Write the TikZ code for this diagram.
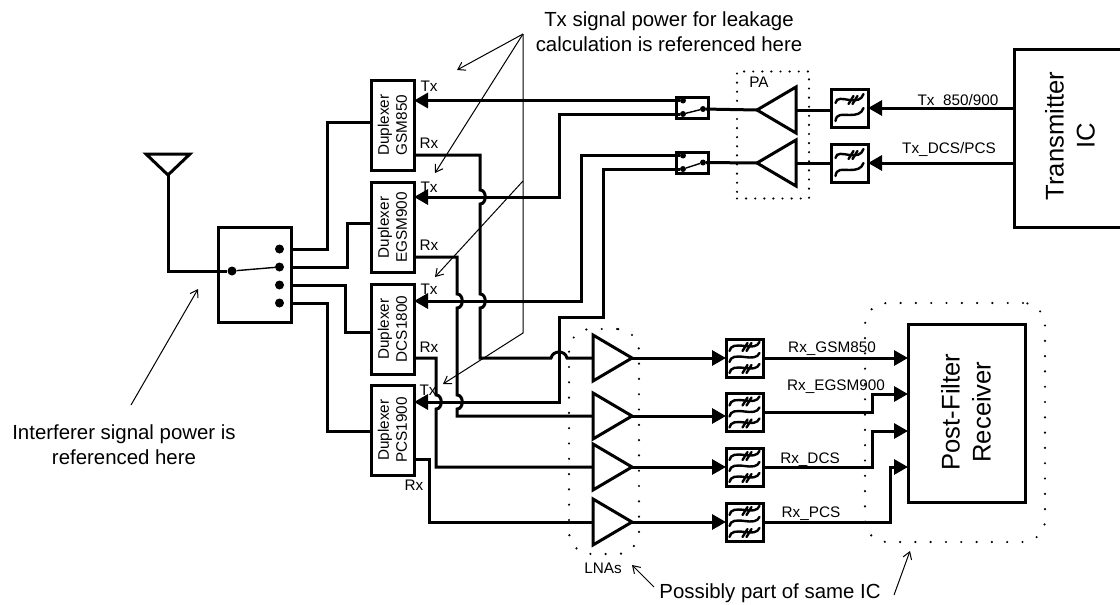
\documentclass[tikz,border=0pt]{standalone}
\usepackage{fontspec}
\setmainfont{Liberation Sans}
\usetikzlibrary{arrows.meta,calc,shapes.geometric}
\newcommand{\hopv}[2]{-- (#1,#2-7) .. controls (#1+7,#2-7) and (#1+7,#2+7) .. (#1,#2+7)}
\newcommand{\hoph}[2]{-- (#1-8,#2) .. controls (#1-6,#2-8) and (#1+6,#2-8) .. (#1+8,#2)}
\tikzset{
  font=\fontsize{15.3}{18}\selectfont,
  wire/.style={draw=black, line width=3pt, line join=miter},
  feed/.style={wire, -{Triangle[length=14pt,width=15pt]}},
  thinline/.style={draw=black, line width=1pt},
  pointer/.style={thinline, -{Straight Barb[length=7pt,width=9pt]}},
  boxed/.style={draw=black, line width=3pt, fill=white, inner sep=0pt, outer sep=0pt},
  dupbox/.style={boxed, minimum width=43pt, minimum height=90pt},
  dupname/.style={rotate=90, align=center, inner sep=0pt},
  filterbox/.style={boxed, minimum width=37pt, minimum height=38pt},
  swbox/.style={boxed, minimum width=32pt, minimum height=21pt},
  contact/.style={circle, fill=black, inner sep=0pt, minimum size=#1},
  amp/.style={draw=black, line width=3pt, fill=white, isosceles triangle, isosceles triangle stretches,
    minimum width=46pt, minimum height=39pt, inner sep=0pt, outer sep=0pt, anchor=lower side},
  squiggle/.style={draw=black, line width=2.4pt, line cap=round},
  dotgroup/.style={draw=black, line width=2.4pt, line cap=round, dash pattern=on 0pt off #1,
    inner sep=0pt, outer sep=0pt},
  tag/.style={inner sep=0pt},
  note/.style={font=\fontsize{20.4}{25}\selectfont, align=center, inner sep=0pt},
  bigname/.style={font=\fontsize{25.6}{31}\selectfont, rotate=90, align=center, inner sep=0pt}
}
\begin{document}
\begin{tikzpicture}[x=1pt,y=-1pt]
  \useasboundingbox (0,0) rectangle (1120,605);

  % dotted groups
  \node[dotgroup=9.1pt, minimum width=72pt, minimum height=127pt] (pagroup) at (773,135) {};
  \node[dotgroup=15.3pt, rounded corners=22pt, minimum width=70pt, minimum height=225pt] (lnagroup) at (604,441.5) {};
  \node[dotgroup=15.3pt, rounded corners=22pt, minimum width=180pt, minimum height=239pt] (rxgroup) at (955,422.5) {};

  % antenna and band switch
  \node[draw=black, line width=3pt, isosceles triangle, isosceles triangle stretches, shape border rotate=-90,
    minimum width=44pt, minimum height=21pt, inner sep=0pt, outer sep=0pt, anchor=apex] (ant) at (168,175) {};
  \node[boxed, minimum width=73pt, minimum height=95pt] (bandsw) at (254.5,274.5) {};
  \node[contact=9pt] (antc) at (232,271) {};
  \node[contact=9pt] (port1) at (279.5,249) {};
  \node[contact=9pt] (port2) at (279.5,267) {};
  \node[contact=9pt] (port3) at (279.5,285) {};
  \node[contact=9pt] (port4) at (279.5,303) {};
  \draw[wire] (ant.apex) -- (168,271) -- (antc);
  \draw[thinline, line width=1.4pt] (antc) -- (port2);

  % duplexers
  \node[dupbox] (dup1) at (392.5,125) {};
  \node[dupbox] (dup2) at (392.5,227.5) {};
  \node[dupbox] (dup3) at (392.5,329) {};
  \node[dupbox] (dup4) at (392.5,430) {};
  \node[dupname] (dup1name) at (dup1) {Duplexer\\GSM850};
  \node[dupname] (dup2name) at (dup2) {Duplexer\\EGSM900};
  \node[dupname] (dup3name) at (dup3) {Duplexer\\DCS1800};
  \node[dupname] (dup4name) at (dup4) {Duplexer\\PCS1900};
  \draw[wire] (bandsw.east |- port1) -- (327,249) |- (dup1.west |- 0,122);
  \draw[wire] (bandsw.east |- port2) -- (347,267) |- (dup2.west |- 0,223);
  \draw[wire] (bandsw.east |- port3) -- (345,285) |- (dup3.west |- 0,332);
  \draw[wire] (bandsw.east |- port4) -- (327,303) |- (dup4.west |- 0,431);

  % PA path
  \node[swbox] (txsw1) at (692,107.5) {};
  \node[swbox] (txsw2) at (692,162.5) {};
  \node[contact=6pt] (sw1a) at (683,100.5) {};
  \node[contact=6pt] (sw1b) at (683,114) {};
  \node[contact=6pt] (sw1c) at (703,109) {};
  \node[contact=6pt] (sw2a) at (683,155.5) {};
  \node[contact=6pt] (sw2b) at (683,169) {};
  \node[contact=6pt] (sw2c) at (703,162.5) {};
  \draw[thinline, line width=1.4pt] (sw1b) -- (sw1c);
  \draw[thinline, line width=1.4pt] (sw2b) -- (sw2c);
  \node[amp, shape border rotate=180] (pa1) at (796,110) {};
  \node[amp, shape border rotate=180] (pa2) at (796,163) {};
  \node[filterbox] (ftx1) at (849.5,108) {};
  \node[filterbox] (ftx2) at (849.5,163) {};
  \node[boxed, minimum width=130pt, minimum height=178pt] (xmit) at (1079,138) {};
  \node[bigname] (xmitname) at (1070,136) {Transmitter\\IC};
  \draw[wire] (sw1c) -- (pa1.apex);
  \draw[wire] (sw2c) -- (pa2.apex);
  \draw[wire] (pa1.lower side) -- (ftx1.west |- pa1.lower side);
  \draw[wire] (pa2.lower side) -- (ftx2.west);
  \draw[feed] (xmit.west |- ftx1) -- (ftx1.east);
  \draw[feed] (xmit.west |- ftx2) -- (ftx2.east);

  % Tx routing to the duplexers
  \draw[feed] (sw1a) -- (sw1a -| dup1.east);
  \draw[feed] (sw1b) -- (559,114) |- (dup2.east |- 0,197);
  \draw[feed] (sw2a) -- (581,155.5) |- (dup3.east |- 0,301);
  \draw[feed] (sw2b) -- (603,169) -- (603,317) -- (559,317) |- (dup4.east |- 0,402);

  % LNAs and Rx filters
  \node[amp] (lna1) at (593,358) {};
  \node[amp] (lna2) at (593,416) {};
  \node[amp] (lna3) at (593,467) {};
  \node[amp] (lna4) at (593,522) {};
  \node[filterbox] (frx1) at (744.5,358) {};
  \node[filterbox] (frx2) at (744.5,412.5) {};
  \node[filterbox] (frx3) at (744.5,467) {};
  \node[filterbox] (frx4) at (744.5,522) {};
  \node[boxed, minimum width=117pt, minimum height=178pt] (recv) at (966.5,413) {};
  \node[bigname] (recvname) at (966,412) {Post-Filter\\Receiver};

  % Rx routing, hopping over the Tx lines
  \draw[wire] (dup1.east |- 0,155) -- (480,155) \hopv{480}{197} \hopv{480}{301} -- (480,358) \hoph{559}{358} -- (lna1.lower side);
  \draw[wire] (dup2.east |- 0,257) -- (457,257) \hopv{457}{301} \hopv{457}{402} -- (457,416) -- (lna2.lower side);
  \draw[wire] (dup3.east |- 0,358) -- (436,358) \hopv{436}{402} -- (436,467) -- (lna3.lower side);
  \draw[wire] (dup4.east |- 0,459) -- (429,459) -- (429,522) -- (lna4.lower side);

  \foreach \n in {1,2,3,4} {
    \draw[feed] (lna\n.apex) -- (frx\n.west |- lna\n.apex);
  }
  \draw[feed] (frx1.east) -- (recv.west |- frx1);
  \draw[feed] (frx2.east) -- (872,412.5) |- (recv.west |- 0,394);
  \draw[feed] (frx3.east) -- (872,467) |- (recv.west |- 0,431);
  \draw[feed] (frx4.east) -- (890,522) |- (recv.west |- 0,467);

  % filter symbols
  \foreach \f in {ftx1,ftx2} {
    \draw[squiggle, shift={(\f)}] (-14,-5) .. controls (-13,-11) and (-7,-9) .. (0,-8) .. controls (7,-7) and (12,-8) .. (14,-14);
    \draw[squiggle, shift={(\f)}] (-14,13) .. controls (-13,5) and (-7,7) .. (0,7) .. controls (7,7) and (12,6) .. (14,0);
    \draw[squiggle, shift={(\f)}] (-1,-4) -- (4,-12) (3,-4) -- (8,-12);
  }
  \foreach \f in {frx1,frx2,frx3,frx4} {
    \foreach \off in {-11,0,11} {
      \draw[squiggle, shift={(\f)}, yshift=-\off pt] (-15,4) .. controls (-14,-2) and (-8,-2) .. (0,-1) .. controls (7,0) and (13,0) .. (15,-5);
    }
    \draw[squiggle, shift={(\f)}] (-2,-7) -- (3,-15) (2,-7) -- (7,-15);
    \draw[squiggle, shift={(\f)}] (-2,15) -- (3,7) (2,15) -- (7,7);
  }

  % port and signal labels
  \node[tag] (txa) at (429,86) {Tx};
  \node[tag] (rxa) at (429,143) {Rx};
  \node[tag] (txb) at (429,187) {Tx};
  \node[tag] (rxb) at (429,245) {Rx};
  \node[tag] (txc) at (429,289) {Tx};
  \node[tag] (rxc) at (429,347) {Rx};
  \node[tag] (txd) at (428,390) {Tx};
  \node[tag] (rxd) at (414,485) {Rx};
  \node[tag] (panote) at (759,82) {PA};
  \node[tag] (lnanote) at (603,568) {LNAs};
  \node[tag] (txlow) at (958,101) {Tx\_850/900};
  \node[tag] (txhigh) at (949,149) {Tx\_DCS/PCS};
  \node[tag] (rxgsm) at (832,349) {Rx\_GSM850};
  \node[tag] (rxegsm) at (836,387) {Rx\_EGSM900};
  \node[tag] (rxdcs) at (810,460) {Rx\_DCS};
  \node[tag] (rxpcs) at (811,514) {Rx\_PCS};

  % notes and pointers
  \node[note] (txnote) at (669,32) {Tx signal power for leakage\\calculation is referenced here};
  \node[note] (intnote) at (124,445) {Interferer signal power is\\referenced here};
  \node[note] (icnote) at (770,593) {Possibly part of same IC};
  \coordinate (apex) at (523,34);
  \coordinate (knee) at (523,181);
  \coordinate (foot) at (523,333);
  \coordinate (tipa) at (457,70);
  \coordinate (tipb) at (435,173);
  \coordinate (tipc) at (435,277);
  \coordinate (tipd) at (443,384);
  \draw[pointer] (apex) -- (tipa);
  \draw[pointer] (apex) -- (tipb);
  \draw[pointer] (knee) -- (tipc);
  \draw[pointer] (apex) -- (foot) -- (tipd);
  \coordinate (inta) at (131,405);
  \coordinate (intb) at (198,289);
  \draw[pointer] (inta) -- (intb);
  \coordinate (ica) at (654,587);
  \coordinate (icb) at (632,565);
  \coordinate (icc) at (894,595);
  \coordinate (icd) at (910,551);
  \draw[pointer] (ica) -- (icb);
  \draw[pointer] (icc) -- (icd);
\end{tikzpicture}
\end{document}
